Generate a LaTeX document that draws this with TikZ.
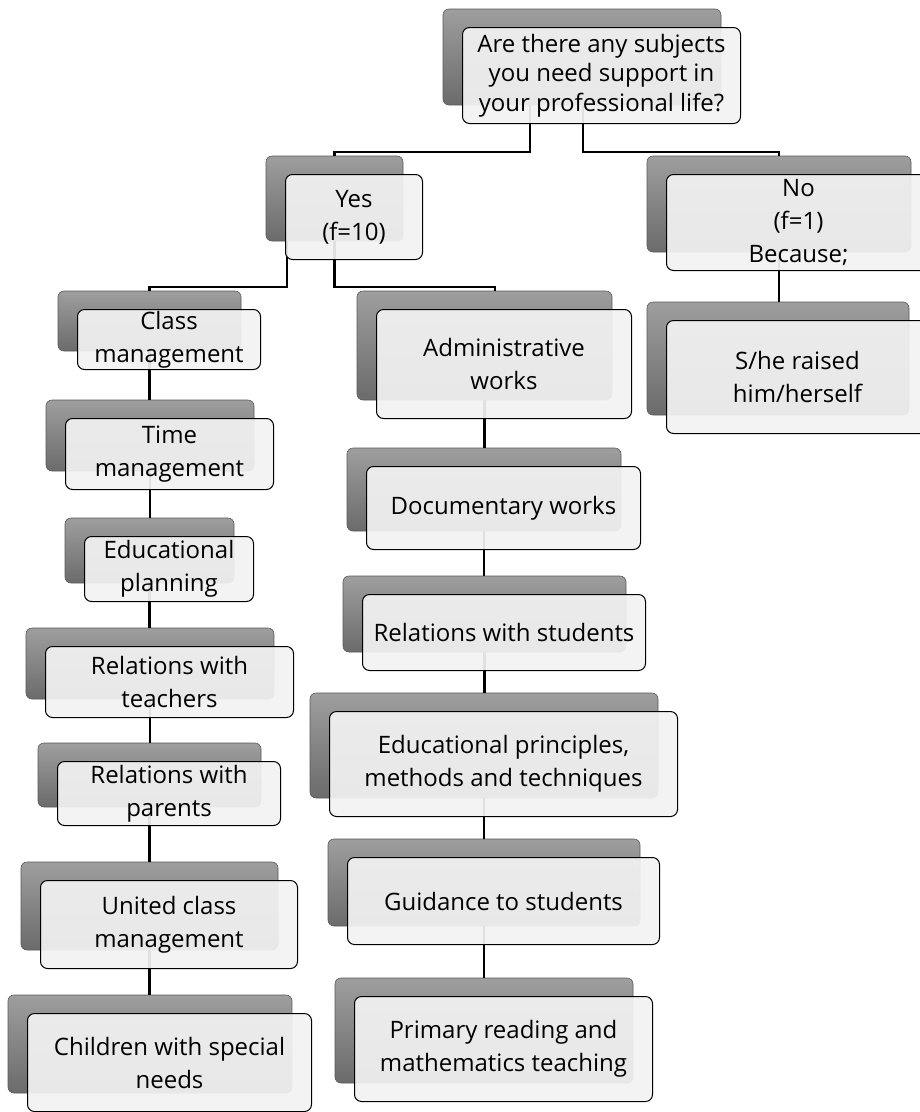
\documentclass[tikz,border=0pt]{standalone}
\usepackage{fontspec}
\setmainfont{Open Sans}

\def\boxlist{%
  q/582/57/278/96/toplabel/{Are there any subjects\\you need support in\\your professional life?},
  yes/334.5/198.5/137/85/labelbox/{Yes\\(f=10)},
  no/779/204/264/96/labelbox/{No\\(f=1)\\Because;},
  she/778/358.5/262/113/labelbox/{S/he raised\\him/herself},
  class/149.5/321/183/60/labelbox/{Class\\management},
  time/150/435.5/208/71/labelbox/{Time\\management},
  eplan/149.5/550.5/169/65/labelbox/{Educational\\planning},
  rteach/150/663.5/248/71/labelbox/{Relations with\\teachers},
  rpar/149.5/775/223/64/labelbox/{Relations with\\parents},
  united/149.5/906/257/88/labelbox/{United class\\management},
  child/150/1044/284/98/labelbox/{Children with special\\needs},
  admin/484.5/345.5/255/109/labelbox/{Administrative\\works},
  doc/484/489.5/274/83/labelbox/{Documentary works},
  rstud/484.5/614/283/76/labelbox/{Relations with students},
  eprin/484/745.5/348/105/labelbox/{Educational principles,\\methods and techniques},
  guide/484/882.5/312/87/labelbox/{Guidance to students},
  prim/484/1030.5/298/105/labelbox/{Primary reading and\\mathematics teaching}%
}

\begin{document}
\begin{tikzpicture}[
  x=1pt, y=-1pt,
  font=\fontsize{24}{33}\selectfont,
  link/.style={draw=black, line width=2.2pt},
  shadowbox/.style={rectangle, rounded corners=6pt, draw=black!65, line width=0.6pt, top color=black!38, bottom color=black!58, inner sep=0pt},
  labelbox/.style={rectangle, rounded corners=7pt, draw=black, line width=1pt, fill=black!5, fill opacity=0.93, text opacity=1, align=center, inner sep=0pt},
  toplabel/.style={labelbox, font=\fontsize{24}{29.5}\selectfont}
]
\useasboundingbox (0,0) rectangle (920,1112);

\foreach \n/\x/\y/\w/\h/\s/\t in \boxlist {
  \node[shadowbox, minimum width=\w pt, minimum height=\h pt] (\n b) at (\x,\y) {};
}

\draw[link] ([xshift=-52pt]qb.south) -- ++(0,47) -| (yesb.north);
\draw[link] ([xshift=1pt]qb.south) -- ++(0,47) -| (nob.north);
\draw[link] ([xshift=-47.5pt]yesb.south) -- ++(0,46) -| (classb.north);
\draw[link] (yesb.south) -- ++(0,46) -| ([xshift=10.5pt]adminb.north);
\draw[link] (nob.south) -- (nob.south |- sheb.north);
\foreach \pa/\ch in {class/time, time/eplan, eplan/rteach, rteach/rpar, rpar/united, united/child,
                     admin/doc, doc/rstud, rstud/eprin, eprin/guide, guide/prim}
  \draw[link] (\pa b.south) -- (\pa b.south |- \ch b.north);

\foreach \n/\x/\y/\w/\h/\s/\t in \boxlist {
  \node[\s, minimum width=\w pt, minimum height=\h pt] (\n) at (\x+19.5,\y+18.5) {\t};
}

\end{tikzpicture}
\end{document}
